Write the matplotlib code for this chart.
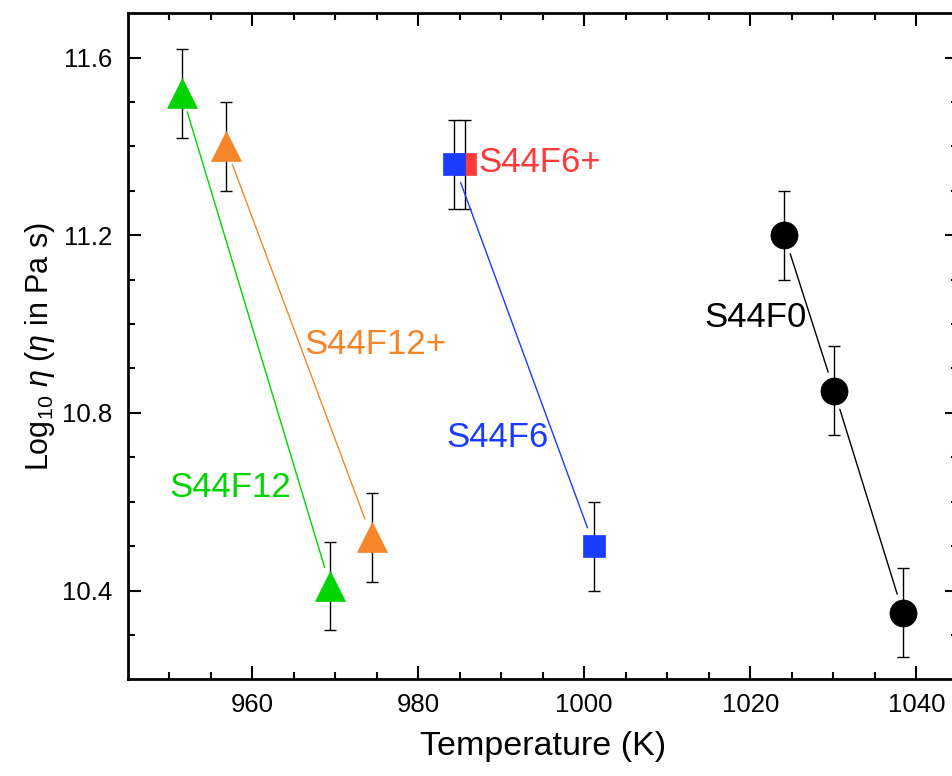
import numpy as np
import matplotlib.pyplot as plt

plt.rcParams['font.family'] = ['Liberation Sans', 'DejaVu Sans']
plt.rcParams['mathtext.fontset'] = 'custom'
plt.rcParams['mathtext.rm'] = 'Liberation Sans'
plt.rcParams['mathtext.it'] = 'Liberation Sans:italic'

# temperatures (K) and log10 viscosity, each with +-0.1 error
T_F12 = [951.5, 969.4]
eta_F12 = [11.52, 10.41]
T_F12p = [956.8, 974.4]
eta_F12p = [11.40, 10.52]
T_F6 = [984.3, 1001.2]
eta_F6 = [11.36, 10.50]
T_F6p = [985.6]
eta_F6p = [11.36]
T_F0 = [1024.1, 1030.1, 1038.4]
eta_F0 = [11.20, 10.85, 10.35]
err = 0.1

green = '#00d400'
orange = '#f5852a'
blue = '#1a3cff'
red = '#ff3a3a'

fig = plt.figure(figsize=(9.53, 7.76), dpi=100)
ax = fig.add_axes([0.134, 0.1246, 0.871, 0.8583])


def gap_line(xs, ys, color, gap=14):
    # segments between points, stopping short of the markers
    for i in range(len(xs) - 1):
        ax.annotate('', xy=(xs[i + 1], ys[i + 1]), xytext=(xs[i], ys[i]),
                    arrowprops=dict(arrowstyle='-', color=color, lw=1.0,
                                    shrinkA=gap, shrinkB=gap))


def series(xs, ys, color, marker, ms):
    ax.errorbar(xs, ys, yerr=err, fmt='none', ecolor='black', elinewidth=1.0,
                capsize=4.6, capthick=1.0, zorder=2)
    ax.plot(xs, ys, linestyle='none', marker=marker, ms=ms, color=color,
            mec=color, mew=0.5, zorder=3)


gap_line(T_F12, eta_F12, green)
gap_line(T_F12p, eta_F12p, orange)
gap_line(T_F6, eta_F6, blue)
gap_line(T_F0, eta_F0, 'black')

series(T_F12, eta_F12, green, '^', 22)
series(T_F12p, eta_F12p, orange, '^', 22)
series(T_F6p, eta_F6p, red, 's', 16.5)
series(T_F6, eta_F6, blue, 's', 16.5)
series(T_F0, eta_F0, 'black', 'o', 19.5)

lab = dict(fontsize=25, va='center', ha='center')
ax.text(957.3, 10.632, 'S44F12', color=green, **lab)
ax.text(974.8, 10.953, 'S44F12+', color=orange, **lab)
ax.text(989.5, 10.744, 'S44F6', color=blue, **lab)
ax.text(987.3, 11.364, 'S44F6+', color=red, fontsize=25, va='center',
        ha='left')
ax.text(1020.6, 11.014, 'S44F0', color='black', **lab)

ax.set_xlim(945, 1045)
ax.set_ylim(10.2, 11.7)
ax.set_xticks([960, 980, 1000, 1020, 1040])
ax.set_xticks(np.arange(950, 1045, 5), minor=True)
ax.set_yticks([10.4, 10.8, 11.2, 11.6])
ax.set_yticks(np.arange(10.3, 11.7, 0.1), minor=True)

ax.tick_params(which='both', direction='in', top=True, right=True,
               width=1.5, labelsize=18.5)
ax.tick_params(axis='x', pad=10)
ax.tick_params(axis='y', pad=11)
ax.tick_params(which='major', length=9.4)
ax.tick_params(which='minor', length=5)
for s in ax.spines.values():
    s.set_linewidth(2)

ax.set_xlabel('Temperature (K)', fontsize=24.5, labelpad=10)
ax.set_ylabel(r'Log$_{10}$ $\it{\eta}$ ($\it{\eta}$ in Pa s)', fontsize=22,
              labelpad=4)

fig.savefig('out.png', dpi=100)
